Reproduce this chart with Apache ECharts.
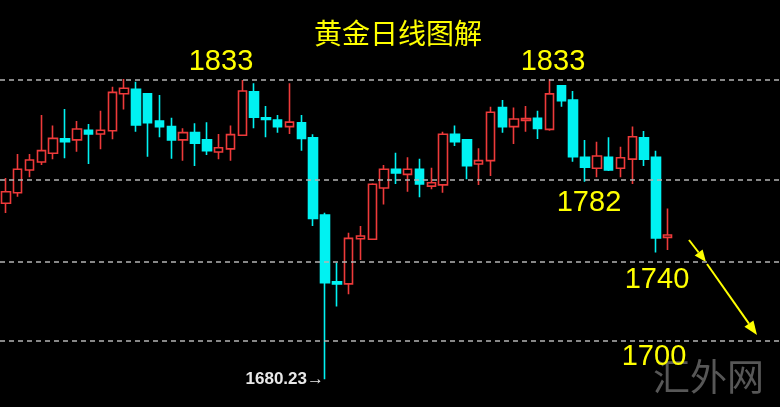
<!DOCTYPE html>
<html>
<head>
<meta charset="utf-8">
<script src="https://cdn.jsdelivr.net/npm/echarts@6/dist/echarts.min.js"></script>
<style>
html,body{margin:0;padding:0;background:#000;}
#chart{width:780px;height:407px;}
</style>
</head>
<body>
<div id="chart"></div>
<script>
// ---- data ----
var opens  = [1770.1,1775.5,1787.1,1791.2,1795.7,1803.1,1802.5,1807.4,1805.5,1807.2,1826.1,1828.4,1826.0,1812.2,1809.3,1802.5,1806.2,1802.5,1796.3,1797.9,1804.9,1827.1,1813.8,1812.7,1809.3,1811.3,1803.6,1764.1,1730.0,1728.9,1752.0,1751.7,1777.9,1787.5,1784.9,1787.5,1778.9,1779.5,1805.4,1802.5,1790.2,1791.9,1819.0,1809.3,1812.4,1813.5,1807.9,1830.2,1822.9,1793.6,1788.0,1793.6,1788.0,1792.7,1803.6,1793.6,1752.7];
var closes = [1776.0,1787.5,1792.2,1797.0,1803.3,1801.6,1808.1,1805.5,1807.4,1826.8,1828.9,1810.1,1811.3,1809.3,1802.5,1806.2,1800.8,1797.0,1798.5,1805.2,1827.5,1814.1,1813.0,1809.3,1811.6,1803.2,1762.4,1729.5,1728.9,1752.2,1753.4,1779.8,1787.5,1785.6,1787.5,1780.0,1780.6,1805.4,1801.6,1789.3,1791.9,1816.6,1809.3,1813.2,1813.4,1808.4,1826.0,1822.5,1793.9,1788.5,1794.3,1787.1,1793.4,1804.1,1792.6,1752.4,1753.9];
var lows   = [1765.1,1773.5,1783.4,1789.7,1792.6,1793.1,1796.5,1790.2,1797.7,1802.8,1818.1,1806.7,1793.9,1803.8,1792.9,1791.9,1789.2,1794.8,1792.6,1791.9,1804.5,1808.4,1803.8,1806.2,1805.5,1797.0,1758.5,1680.23,1717.3,1723.6,1741.1,1751.3,1769.5,1780.0,1776.0,1773.2,1777.3,1775.5,1799.4,1782.4,1779.5,1784.1,1806.2,1800.4,1806.7,1803.0,1807.2,1819.5,1791.4,1781.1,1783.4,1786.6,1783.4,1780.0,1789.2,1744.9,1746.2];
var highs  = [1783.0,1795.3,1795.3,1815.2,1809.8,1818.3,1812.2,1810.6,1817.4,1829.7,1833.6,1832.2,1826.0,1825.5,1813.8,1808.4,1811.0,1811.5,1805.5,1809.8,1833.1,1831.4,1819.8,1815.2,1831.4,1815.2,1805.4,1765.3,1739.7,1755.1,1758.5,1780.3,1789.7,1796.0,1793.6,1792.9,1788.3,1806.7,1809.8,1802.8,1798.2,1819.5,1822.9,1819.0,1819.8,1817.4,1833.6,1830.5,1827.5,1802.5,1801.6,1803.8,1799.0,1809.3,1807.1,1797.0,1767.5];
var levels = [1833, 1782, 1740, 1700];
var levelLabels = ['1833', '1833', '1782', '1740', '1700'];
var lowIndex = 27;
var lowValue = 1680.23;
var totalSlots = 66;
var categories = [];
for (var i = 0; i < totalSlots; i++) categories.push(String(i));
var title = '黄金日线图解';
var watermark = '汇外网';

// ---- build ----
var candles = opens.map(function (o, i) { return [o, closes[i], lows[i], highs[i]]; });
var YEL = '#ffff00';

function arrow(x1, y1, x2, y2, L, W) {
  var a = Math.atan2(y2 - y1, x2 - x1);
  var bx = x2 - L * Math.cos(a), by = y2 - L * Math.sin(a);
  var nx = -Math.sin(a), ny = Math.cos(a);
  return [
    {type: 'line', shape: {x1: x1, y1: y1, x2: bx, y2: by}, style: {stroke: YEL, lineWidth: 2}},
    {type: 'polygon', shape: {points: [[x2, y2], [bx + nx * W, by + ny * W], [bx - nx * W, by - ny * W]]}, style: {fill: YEL}}
  ];
}

var labelPos = [[221, 62], [553, 62], [589, 203], [657, 280], [654, 357]];
var graphics = [];
labelPos.forEach(function (p, i) {
  graphics.push({type: 'text', x: p[0], y: p[1], z: 10,
    style: {text: levelLabels[i], fill: YEL, font: '29px "Liberation Sans", Arial, sans-serif',
      textAlign: 'center', textVerticalAlign: 'middle', verticalAlign: 'middle'}});
});
graphics.push({type: 'text', x: 653, y: 377, z: 1,
  style: {text: watermark, fill: '#575757', font: '37px "Noto Sans CJK SC", sans-serif',
    textAlign: 'left', textVerticalAlign: 'middle', verticalAlign: 'middle'}});
graphics = graphics.concat(arrow(689, 240, 706, 262, 12, 5)).concat(arrow(707, 264, 757, 335, 14, 5.5));

var chart = echarts.init(document.getElementById('chart'), null, {renderer: 'canvas'});
chart.setOption({
  backgroundColor: '#000',
  animation: false,
  title: {text: title, left: 393, textAlign: 'center', top: 14,
    textStyle: {color: YEL, fontSize: 28, fontWeight: 'normal', fontFamily: '"Noto Sans CJK SC", sans-serif'}},
  grid: {left: -5, right: -7, top: 0, bottom: 0, containLabel: false},
  xAxis: {type: 'category', data: categories, boundaryGap: true, show: false},
  yAxis: {type: 'value', min: 1666, max: 1874, show: false, splitLine: {show: false}, scale: true},
  graphic: graphics,
  series: [{
    type: 'candlestick',
    data: candles,
    barWidth: 9,
    itemStyle: {color: '#000000', color0: '#00f2f2', borderColor: '#ee3a3a', borderColor0: '#00f2f2', borderWidth: 1.6},
    markLine: {
      silent: true, symbol: ['none', 'none'], label: {show: false},
      lineStyle: {color: '#b4b4b4', type: [5, 4], width: 1.5},
      data: levels.map(function (v) { return {yAxis: v}; })
    },
    markPoint: {
      silent: true,
      data: [{coord: [String(lowIndex), lowValue], symbol: 'circle', symbolSize: 0,
        label: {show: true, position: 'left', distance: 1, formatter: lowValue.toFixed(2) + '→',
          color: '#e8e8e8', fontSize: 17, fontWeight: 'bold', fontFamily: '"Liberation Sans", Arial, sans-serif'}}]
    }
  }]
});
</script>
</body>
</html>
